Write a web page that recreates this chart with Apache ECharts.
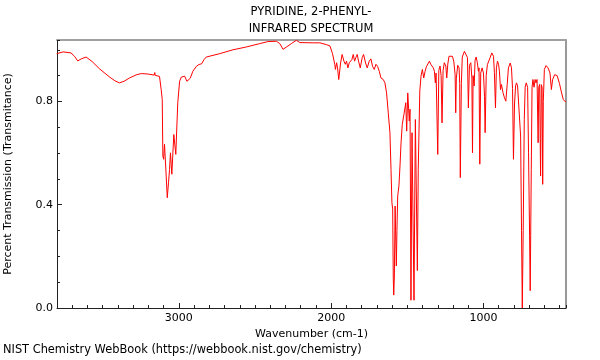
<!DOCTYPE html>
<html><head><meta charset="utf-8">
<script src="https://cdn.jsdelivr.net/npm/echarts@6/dist/echarts.min.js"></script>
<style>html,body{margin:0;padding:0;background:#fff}#c{width:600px;height:360px}</style>
</head><body><div id="c"></div>
<script>
const titleLines = ['PYRIDINE, 2-PHENYL-', 'INFRARED SPECTRUM'];
const xTickLabels = [3000, 2000, 1000];
const yTickLabels = [0.0, 0.4, 0.8];
const wavenumbers = [
3802,3760,3708,3685,3664,3640,3609,3570,3522,3456,3420,3390,3360,3324,3280,3247,3200,3162,3158,3155,3127,
3116,3109,3105,3100,3094,3087,3083,3076,3068,3061,3055,3050,3046,3039,3033,3026,3020,3013,3007,2995,2984,
2962,2947,2936,2925,2908,2885,2868,2850,2835,2820,2732,2645,2557,2469,2414,2359,2337,2316,2293,2261,2228,
2206,2118,2074,2030,2008,1991,1982,1976,1972,1964,1958,1950,1938,1928,1916,1907,1899,1890,1881,1872,1864,
1855,1846,1838,1829,1820,1809,1796,1787,1774,1763,1750,1739,1728,1717,1706,1695,1684,1673,1658,1647,1636,
1625,1614,1607,1601,1596,1592,1589,1585,1580,1576,1572,1568,1563,1555,1548,1541,1533,1522,1510,1504,1497,
1491,1487,1482,1476,1469,1462,1456,1447,1441,1434,1428,1418,1410,1401,1392,1383,1375,1366,1355,1346,1337,
1329,1322,1316,1311,1305,1300,1293,1285,1278,1272,1265,1257,1247,1241,1234,1226,1214,1204,1195,1186,1182,
1178,1169,1160,1156,1152,1145,1139,1125,1114,1105,1099,1092,1083,1076,1072,1068,1061,1055,1048,1040,1033,
1029,1024,1018,1009,1000,993,989,982,974,964,956,945,934,928,921,915,908,901,895,888,882,872,862,853,844,
836,824,816,809,803,796,789,783,776,769,763,756,750,745,739,732,726,719,710,704,697,693,686,681,675,668,
661,655,648,641,637,631,625,620,615,611,607,600,589,576,563,554,546,532,516,501,487,476,465,458
];
const transmittance = [
0.985,0.992,0.988,0.975,0.957,0.965,0.972,0.955,0.927,0.895,0.880,0.872,0.878,0.891,0.903,0.908,0.906,0.902,0.912,0.901,0.897,
0.846,0.808,0.589,0.576,0.634,0.630,0.511,0.427,0.485,0.537,0.601,0.555,0.518,0.601,0.672,0.666,0.595,0.705,0.795,0.878,0.894,
0.898,0.878,0.872,0.890,0.917,0.936,0.943,0.946,0.962,0.972,0.985,1.000,1.011,1.024,1.032,1.033,1.024,1.002,1.011,1.024,1.037,
1.028,1.027,1.027,1.020,1.015,0.985,0.960,0.943,0.924,0.950,0.930,0.885,0.949,0.982,0.956,0.944,0.956,0.930,0.950,0.944,0.962,
0.982,0.956,0.970,0.982,0.956,0.930,0.970,0.982,0.949,0.930,0.956,0.965,0.936,0.924,0.944,0.936,0.917,0.891,0.885,0.872,0.833,
0.756,0.679,0.537,0.408,0.383,0.112,0.050,0.120,0.395,0.390,0.163,0.300,0.434,0.473,0.550,0.640,0.711,0.750,0.795,0.685,0.833,
0.833,0.724,0.770,0.030,0.679,0.685,0.030,0.730,0.736,0.145,0.537,0.840,0.898,0.924,0.891,0.917,0.934,0.930,0.956,0.944,0.950,
0.930,0.917,0.872,0.910,0.917,0.595,0.920,0.937,0.900,0.717,0.920,0.950,0.937,0.891,0.945,0.975,0.980,0.975,0.956,0.904,0.756,
0.890,0.940,0.930,0.870,0.505,0.870,0.972,0.994,0.998,0.970,0.775,0.940,0.950,0.890,0.601,0.900,0.860,0.960,0.972,0.950,0.917,
0.930,0.557,0.910,0.930,0.910,0.820,0.679,0.900,0.943,0.950,0.970,0.988,0.975,0.911,0.775,0.930,0.956,0.944,0.917,0.846,0.866,0.835,0.814,0.801,0.866,
0.930,0.949,0.930,0.850,0.576,0.790,0.860,0.872,0.860,0.866,0.855,0.666,0.300,0.000,0.300,0.730,0.855,0.872,0.855,0.601,0.280,0.067,0.537,0.855,0.885,0.855,
0.885,0.872,0.885,0.640,0.855,0.866,0.511,0.865,0.855,0.479,0.800,0.924,0.939,0.930,0.910,0.846,0.885,0.904,0.900,0.870,0.833,0.808,0.800,0.800
];
const footer = 'NIST Chemistry WebBook (https://webbook.nist.gov/chemistry)';

const FONT = 'DejaVu Sans';
const X_MIN = 458, X_MAX = 3800, Y_MIN = 0, Y_MAX = 1.038;
const data = wavenumbers.map((w, i) => [w, transmittance[i]]);
const axisColor = '#222';
const chart = echarts.init(document.getElementById('c'), null, {renderer: 'canvas'});
chart.setOption({
  animation: false,
  backgroundColor: '#fff',
  textStyle: {fontFamily: FONT},
  title: [
    {text: titleLines.join('\n'), left: 311, top: 4, padding: 0, textAlign: 'center',
     textStyle: {fontSize: 11.5, fontWeight: 'normal', color: '#000', fontFamily: FONT, lineHeight: 17}},
    {text: footer, left: 3, top: 345, padding: 0,
     textStyle: {fontSize: 11.4, fontWeight: 'normal', color: '#000', fontFamily: FONT}}
  ],
  grid: {left: 57, right: 34, top: 40, bottom: 52, containLabel: false, outerBoundsMode: 'none'},
  xAxis: [
    {type: 'value', inverse: true, min: X_MIN, max: X_MAX, position: 'bottom',
     splitNumber: 3, minInterval: 1000, maxInterval: 1000,
     axisLine: {show: true, onZero: false, lineStyle: {color: axisColor, width: 1}},
     axisTick: {show: true, inside: true, length: 5, lineStyle: {color: axisColor}},
     axisLabel: {show: true, margin: 5, fontSize: 11, color: '#000', fontFamily: FONT,
       showMinLabel: false, showMaxLabel: false,
       formatter: v => xTickLabels.includes(Math.round(v)) ? String(Math.round(v)) : ''},
     splitLine: {show: false},
     name: 'Wavenumber (cm-1)', nameLocation: 'middle', nameGap: 18,
     nameTextStyle: {fontSize: 11, color: '#000', fontFamily: FONT}},
    {type: 'value', inverse: true, min: X_MIN, max: X_MAX, position: 'bottom',
     minInterval: 100, maxInterval: 100, splitNumber: 30,
     axisLine: {show: false, onZero: false},
     axisTick: {show: true, inside: true, length: 3, lineStyle: {color: axisColor}},
     axisLabel: {show: false}, splitLine: {show: false}},
    {type: 'value', inverse: true, min: X_MIN, max: X_MAX, position: 'top',
     axisLine: {show: true, onZero: false, lineStyle: {color: '#a0a0a0', width: 2}},
     axisTick: {show: false}, axisLabel: {show: false}, splitLine: {show: false}}
  ],
  yAxis: [
    {type: 'value', min: Y_MIN, max: Y_MAX, interval: 0.4, position: 'left',
     axisLine: {show: true, onZero: false, lineStyle: {color: axisColor, width: 1}},
     axisTick: {show: true, inside: true, length: 5, lineStyle: {color: axisColor}},
     axisLabel: {show: true, margin: 4, fontSize: 11, color: '#000', fontFamily: FONT, showMaxLabel: false,
       formatter: v => yTickLabels.some(t => Math.abs(t - v) < 1e-6) ? v.toFixed(1) : ''},
     splitLine: {show: false},
     name: 'Percent Transmission (Transmitance)', nameLocation: 'middle', nameGap: 43, nameRotate: 90,
     nameTextStyle: {fontSize: 11, color: '#000', fontFamily: FONT}},
    {type: 'value', min: Y_MIN, max: Y_MAX, interval: 0.1, position: 'left',
     axisLine: {show: false, onZero: false},
     axisTick: {show: true, inside: true, length: 3, lineStyle: {color: axisColor}},
     axisLabel: {show: false}, splitLine: {show: false}},
    {type: 'value', min: Y_MIN, max: Y_MAX, position: 'right',
     axisLine: {show: true, onZero: false, lineStyle: {color: '#777', width: 1.5}},
     axisTick: {show: false}, axisLabel: {show: false}, splitLine: {show: false}}
  ],
  series: [{
    type: 'line', xAxisIndex: 0, yAxisIndex: 0, data: data,
    showSymbol: false, symbol: 'none', smooth: false,
    lineStyle: {color: '#ff0000', width: 1}, clip: true
  }]
});
</script></body></html>
